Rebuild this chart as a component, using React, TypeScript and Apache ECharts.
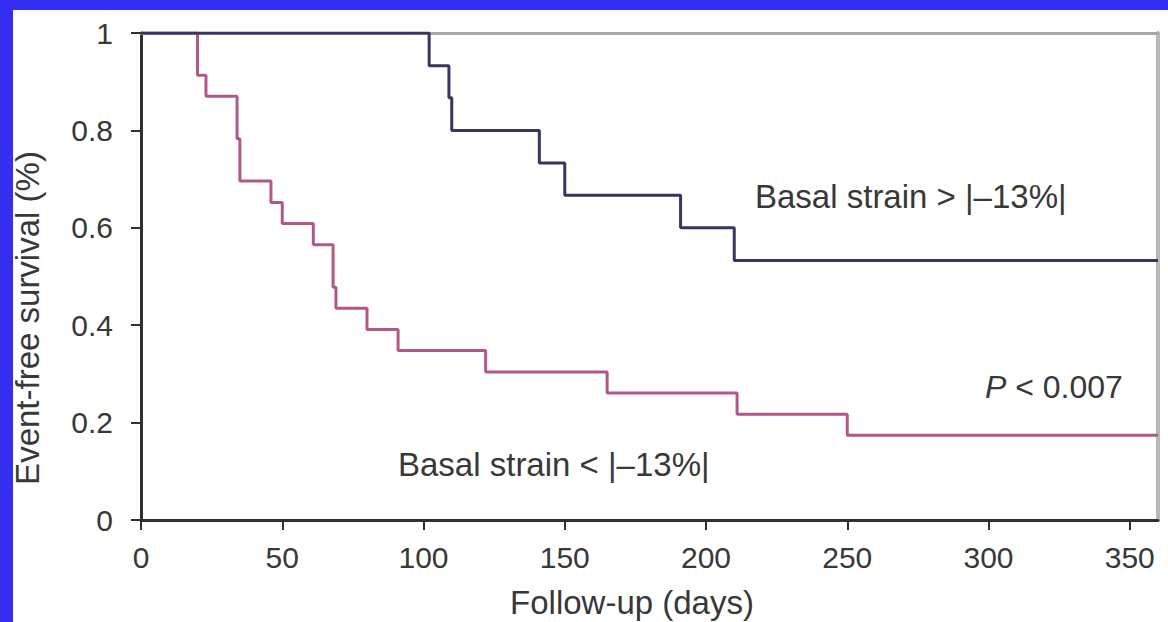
import React, { useEffect, useRef } from "react";
import * as echarts from "echarts";

const blueDays = [0, 102, 109, 110, 141, 150, 191, 210, 360];
const blueSurv = [1, 0.933, 0.867, 0.8, 0.733, 0.667, 0.6, 0.533, 0.533];
const pinkDays = [0, 20, 23, 34, 35, 46, 50, 61, 68, 69, 80, 91, 122, 165, 211, 250, 360];
const pinkSurv = [1, 0.913, 0.87, 0.783, 0.696, 0.652, 0.609, 0.565, 0.478, 0.435, 0.391, 0.348, 0.304, 0.261, 0.217, 0.174, 0.174];
const xTicks = [0, 50, 100, 150, 200, 250, 300, 350];
const yTicks = [0, 0.2, 0.4, 0.6, 0.8, 1];
const xTitle = "Follow-up (days)";
const yTitle = "Event-free survival (%)";
const labelHigh = "Basal strain > |\u201313%|";
const labelLow = "Basal strain < |\u201313%|";

const FONT = "'Liberation Sans', Arial, Helvetica, sans-serif";
const TXT = "#383838";

export default function App() {
  const ref = useRef<HTMLDivElement>(null);
  useEffect(() => {
    if (!ref.current) return;
    const chart = echarts.init(ref.current, undefined, { renderer: "svg" });
    const axisLine = { show: true, onZero: false, lineStyle: { color: "#303030", width: 3 } };
    chart.setOption({
      animation: false,
      backgroundColor: "#332ef0",
      grid: { left: 141, top: 33, right: 10, bottom: 102, containLabel: false },
      xAxis: [
        {
          type: "value",
          min: 0,
          max: 360,
          position: "bottom",
          axisLine,
          splitLine: { show: false },
          axisTick: { show: true, inside: false, length: 10, customValues: xTicks, lineStyle: { color: "#303030", width: 2 } },
          axisLabel: { customValues: xTicks, margin: 22, fontSize: 30, color: TXT, fontFamily: FONT },
        },
        {
          type: "value",
          min: 0,
          max: 360,
          position: "top",
          axisLine: { show: true, onZero: false, lineStyle: { color: "#a8a8a8", width: 3 } },
          axisTick: { show: false },
          axisLabel: { show: false },
          splitLine: { show: false },
        },
      ],
      yAxis: [
        {
          type: "value",
          min: 0,
          max: 1,
          position: "left",
          axisLine,
          splitLine: { show: false },
          axisTick: { show: true, inside: false, length: 10, customValues: yTicks, lineStyle: { color: "#303030", width: 2 } },
          axisLabel: { customValues: yTicks, margin: 28, fontSize: 30, color: TXT, fontFamily: FONT },
        },
        {
          type: "value",
          min: 0,
          max: 1,
          position: "right",
          axisLine: { show: true, onZero: false, lineStyle: { color: "#b8b8b8", width: 4 } },
          axisTick: { show: false },
          axisLabel: { show: false },
          splitLine: { show: false },
        },
      ],
      graphic: [
        { type: "rect", z: -100, shape: { x: 13, y: 10, width: 1155, height: 612 }, style: { fill: "#ffffff" }, silent: true },
        { type: "text", z: 100, x: 632, y: 602, style: { text: xTitle, fontSize: 33, fontFamily: FONT, fill: TXT, align: "center", verticalAlign: "middle" } },
        { type: "text", z: 100, x: 27, y: 318, rotation: Math.PI / 2, style: { text: yTitle, fontSize: 33, fontFamily: FONT, fill: TXT, align: "center", verticalAlign: "middle" } },
        { type: "text", z: 100, x: 755, y: 196, style: { text: labelHigh, fontSize: 33, fontFamily: FONT, fill: TXT, align: "left", verticalAlign: "middle" } },
        { type: "text", z: 100, x: 398, y: 464, style: { text: labelLow, fontSize: 33, fontFamily: FONT, fill: TXT, align: "left", verticalAlign: "middle" } },
        {
          type: "text",
          z: 100,
          x: 985,
          y: 387,
          style: {
            text: "{i|P} < 0.007",
            fontSize: 32,
            fontFamily: FONT,
            fill: TXT,
            align: "left",
            verticalAlign: "middle",
            rich: { i: { fontStyle: "italic", fontSize: 32, fontFamily: FONT, fill: TXT, color: TXT } },
          },
        },
      ],
      series: [
        {
          type: "line",
          name: labelLow,
          step: "end",
          symbol: "none",
          z: 5,
          lineStyle: { color: "#b0588a", width: 3 },
          data: pinkDays.map((d, i) => [d, pinkSurv[i]]),
        },
        {
          type: "line",
          name: labelHigh,
          step: "end",
          symbol: "none",
          z: 6,
          lineStyle: { color: "#363660", width: 3 },
          data: blueDays.map((d, i) => [d, blueSurv[i]]),
        },
      ],
    });
    return () => chart.dispose();
  }, []);
  return <div ref={ref} style={{ position: "absolute", left: 0, top: 0, width: 1168, height: 622 }} />;
}
